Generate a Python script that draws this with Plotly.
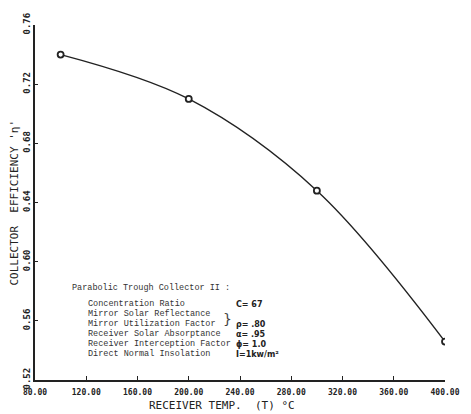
import plotly.graph_objects as go

temps = [100, 200, 300, 400]
efficiency = [0.740, 0.710, 0.648, 0.546]

x_ticks = [80, 120, 160, 200, 240, 280, 320, 360, 400]
x_ticklabels = ["80.00", "120.00", "160.00", "200.00", "240.00", "280.00", "320.00", "360.00", "400.00"]
y_ticks = [0.52, 0.56, 0.60, 0.64, 0.68, 0.72, 0.76]
y_ticklabels = ["0.52", "0.56", "0.60", "0.64", "0.68", "0.72", "0.76"]

legend_title = "Parabolic Trough Collector II :"
legend_labels = ["Concentration Ratio", "Mirror Solar Reflectance", "Mirror Utilization Factor",
                 "Receiver Solar Absorptance", "Receiver Interception Factor", "Direct Normal Insolation"]
legend_values = ["C= 67", "", "ρ= .80", "α= .95", "ϕ= 1.0", "I=1kw/m²"]

fig = go.Figure()
fig.add_trace(go.Scatter(
    x=temps, y=efficiency, mode="lines+markers",
    line=dict(color="#222", width=1.4, shape="spline", smoothing=1.0),
    marker=dict(size=6, color="white", line=dict(color="#222", width=1.8)),
    showlegend=False, hoverinfo="skip"))

mono = "DejaVu Sans Mono"
fig.update_layout(
    width=471, height=414,
    margin=dict(l=35, r=26, t=25, b=34),
    paper_bgcolor="white", plot_bgcolor="white",
    xaxis=dict(range=[80, 400], tickvals=x_ticks, ticktext=x_ticklabels,
               showgrid=False, zeroline=False, showline=True, linecolor="#222", linewidth=1.5,
               ticks="inside", ticklen=4, tickcolor="#222", ticklabelstandoff=4,
               tickfont=dict(family=mono, size=8, color="#222", weight="bold")),
    yaxis=dict(range=[0.52, 0.76], tickvals=y_ticks, ticktext=y_ticklabels,
               showgrid=False, zeroline=False, showline=True, linecolor="#222", linewidth=1.5,
               ticks="inside", ticklen=3, tickcolor="#222", tickangle=-90,
               tickfont=dict(family=mono, size=9, color="#222", weight="bold")),
)

annotations = []
annotations.append(dict(xref="paper", yref="paper", x=0.455, y=0, yshift=-25, xanchor="center", yanchor="middle",
                        text="RECEIVER TEMP.  (T) °C", showarrow=False,
                        font=dict(family=mono, size=11, color="#222")))
annotations.append(dict(xref="paper", yref="paper", x=0, y=0.5, xshift=-21, xanchor="center", yanchor="middle",
                        text="COLLECTOR  EFFICIENCY 'η'", textangle=-90, showarrow=False,
                        font=dict(family=mono, size=11, color="#222")))

tfont = dict(family="Liberation Mono", size=8.5, color="#333")
annotations.append(dict(xref="paper", yref="paper", x=(70 - 35) / 410, y=(380 - 288) / 355,
                        xanchor="left", yanchor="middle", text=legend_title, showarrow=False, font=tfont))
for i, (lab, val) in enumerate(zip(legend_labels, legend_values)):
    yy = (380 - (304 + 10 * i)) / 355
    annotations.append(dict(xref="paper", yref="paper", x=(86 - 35) / 410, y=yy,
                            xanchor="left", yanchor="middle", text=lab, showarrow=False, font=tfont))
    if val:
        annotations.append(dict(xref="paper", yref="paper", x=(234 - 35) / 410, y=yy,
                                xanchor="left", yanchor="middle", text="<b>" + val + "</b>", showarrow=False,
                                font=dict(family="DejaVu Sans", size=8, color="#222")))
annotations.append(dict(xref="paper", yref="paper", x=(227 - 35) / 410, y=(380 - 319) / 355,
                        xanchor="center", yanchor="middle", text="}", showarrow=False,
                        font=dict(family="DejaVu Sans", size=14, color="#444")))
fig.update_layout(annotations=annotations)

fig.write_html("out.html")
